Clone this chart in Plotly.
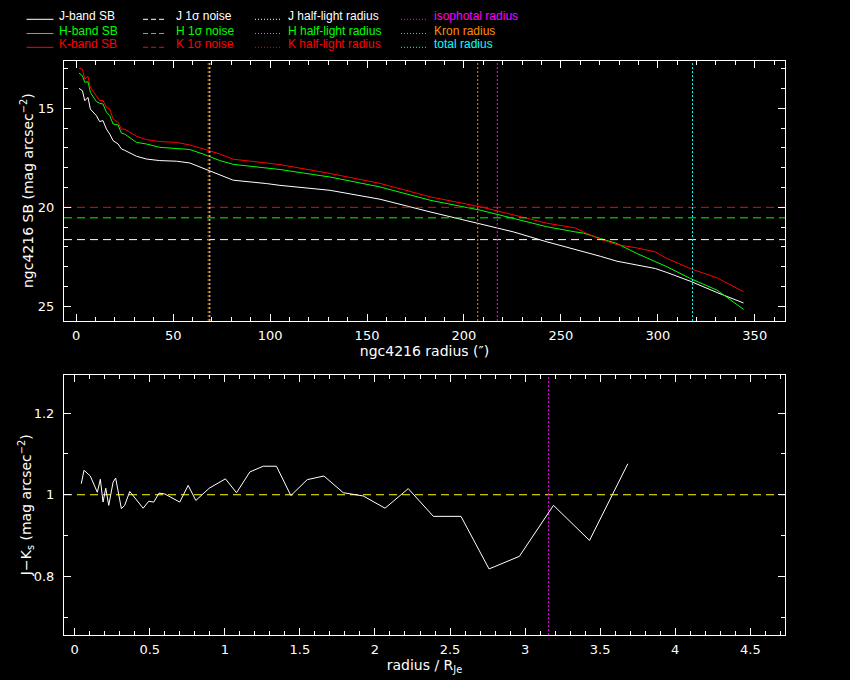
import plotly.graph_objects as go

# ---------------- data ----------------
radius = [1.45, 3.2, 4.4, 6.1, 7.3, 10.4, 12.1, 13.8, 15.6, 17.3, 19.0, 21.6, 23.3, 25.0,
          31.1, 36.2, 43.1, 51.7, 58.6, 65.5, 68.9, 74.1, 81.0, 98.2, 105.1, 130.9, 156.7,
          182.5, 208.3, 225.5, 242.7, 257.4, 261.6, 270.3, 278.9, 289.2, 298.7, 304.7,
          316.7, 330.5, 344.2]
sb_j = [13.99, 14.11, 14.61, 14.45, 15.04, 15.37, 15.67, 15.62, 16.05, 16.30, 16.63, 16.80,
        17.05, 17.12, 17.42, 17.56, 17.64, 17.67, 17.76, 18.03, 18.19, 18.37, 18.63, 18.80,
        18.89, 19.14, 19.59, 20.23, 20.82, 21.24, 21.74, 22.13, 22.22, 22.47, 22.72, 22.92,
        23.09, 23.29, 23.73, 24.30, 24.83]
sb_h = [13.22, 13.35, 13.69, 13.66, 14.20, 14.66, 14.75, 14.78, 15.20, 15.37, 15.79, 15.84,
        16.25, 16.30, 16.72, 16.80, 16.97, 17.02, 17.08, 17.31, 17.44, 17.64, 17.83, 18.01,
        18.09, 18.47, 18.97, 19.64, 20.14, 20.56, 20.98, 21.24, 21.30, 21.57, 21.83, 22.33,
        22.75, 23.00, 23.59, 24.18, 25.15]
sb_k = [12.97, 13.02, 13.52, 13.39, 13.94, 14.36, 14.61, 14.61, 14.95, 15.04, 15.54, 15.71,
        16.05, 16.05, 16.41, 16.58, 16.68, 16.72, 16.85, 17.05, 17.14, 17.31, 17.57, 17.79,
        17.84, 18.29, 18.79, 19.47, 19.97, 20.38, 20.80, 21.04, 21.24, 21.61, 21.88, 22.05,
        22.25, 22.58, 23.09, 23.56, 24.26]

noise_j, noise_h, noise_k = 21.63, 20.53, 20.0
half_light_j, half_light_h, half_light_k = 68.9, 68.4, 68.0
isophotal_radius = 217.2
kron_radius = 207.1
total_radius = 317.9
r_je = 68.8

color_r = [0.044, 0.062, 0.104, 0.151, 0.171, 0.189, 0.207, 0.227, 0.256, 0.273, 0.311, 0.333,
           0.367, 0.456, 0.493, 0.527, 0.562, 0.600, 0.700, 0.756, 0.807, 0.896, 1.004, 1.078,
           1.167, 1.256, 1.344, 1.440, 1.549, 1.660, 1.789, 1.878, 1.922, 2.067, 2.222, 2.389,
           2.573, 2.760, 2.962, 3.189, 3.311, 3.429, 3.684]
color_jk = [1.027, 1.060, 1.046, 1.006, 1.038, 0.982, 1.016, 0.974, 1.031, 1.041, 0.966, 0.974,
            1.008, 0.967, 0.984, 0.982, 1.004, 1.002, 0.982, 1.023, 0.986, 1.016, 1.039, 1.005,
            1.056, 1.070, 1.070, 0.998, 1.037, 1.046, 1.005, 1.000, 0.997, 0.967, 1.015, 0.947,
            0.947, 0.818, 0.849, 0.974, 0.930, 0.888, 1.076]
color_ref = 1.0

legend_col1 = ["J-band SB", "H-band SB", "K-band SB"]
legend_col2 = ["J 1σ noise", "H 1σ noise", "K 1σ noise"]
legend_col3 = ["J half-light radius", "H half-light radius", "K half-light radius"]
legend_col4 = ["isophotal radius", "Kron radius", "total radius"]

X1 = [-6.3, 365.6]
Y1 = [25.74, 12.61]
X2 = [-0.071, 4.731]
Y2 = [0.656, 1.293]

WHITE, GREEN, RED = "#ffffff", "#00ff00", "#ff0000"
MAGENTA, ORANGE, CYAN, YELLOW = "#ff00ff", "#ff8c00", "#00ffff", "#ffff00"
BAND_COLORS = [WHITE, GREEN, RED]
RADIUS_COLORS = [MAGENTA, ORANGE, CYAN]
FONT = "DejaVu Sans"
LFONT = "Liberation Sans"
DASH = "8px,5px"
DOT = "2px,2px"

fig = go.Figure()

for y, col in zip([sb_j, sb_h, sb_k], BAND_COLORS):
    fig.add_trace(go.Scatter(x=radius, y=y, mode="lines", line=dict(color=col, width=1),
                             showlegend=False, xaxis="x", yaxis="y"))
for v, col in zip([noise_j, noise_h, noise_k], BAND_COLORS):
    fig.add_trace(go.Scatter(x=X1, y=[v, v], mode="lines", line=dict(color=col, width=1, dash=DASH),
                             showlegend=False, xaxis="x", yaxis="y"))
for v, col in zip([half_light_j, half_light_h, half_light_k], BAND_COLORS):
    fig.add_trace(go.Scatter(x=[v, v], y=Y1, mode="lines", line=dict(color=col, width=1, dash=DOT),
                             showlegend=False, xaxis="x", yaxis="y"))
for v, col in zip([isophotal_radius, kron_radius, total_radius], RADIUS_COLORS):
    fig.add_trace(go.Scatter(x=[v, v], y=Y1, mode="lines", line=dict(color=col, width=1, dash=DOT),
                             showlegend=False, xaxis="x", yaxis="y"))

# bottom panel
fig.add_trace(go.Scatter(x=X2, y=[color_ref, color_ref], mode="lines",
                         line=dict(color=YELLOW, width=1, dash=DASH), showlegend=False,
                         xaxis="x2", yaxis="y2"))
fig.add_trace(go.Scatter(x=[isophotal_radius / r_je] * 2, y=Y2, mode="lines",
                         line=dict(color=MAGENTA, width=1, dash=DOT), showlegend=False,
                         xaxis="x2", yaxis="y2"))
fig.add_trace(go.Scatter(x=color_r, y=color_jk, mode="lines", line=dict(color=WHITE, width=1),
                         showlegend=False, xaxis="x2", yaxis="y2"))

axis_common = dict(showline=True, linecolor=WHITE, linewidth=1, mirror="ticks", ticks="inside",
                   tickcolor=WHITE, ticklen=7, tickwidth=1, showgrid=False, zeroline=False,
                   tickfont=dict(family=FONT, size=13, color=WHITE), automargin=False)

W, H = 850, 680
ml, mr, mt, mb = 64, 65, 61, 45
ph = H - mt - mb
pw = W - ml - mr


def py2paper(py):
    return (H - mb - py) / ph


def px2paper(px):
    return (px - ml) / pw


# ---- legend drawn as paper-positioned keys + labels ----
rows_py = [16.3, 30.5, 44.3]
columns = [
    (legend_col1, BAND_COLORS, None, 26.5, 53.5, 57),
    (legend_col2, BAND_COLORS, "dash", 143, 166, 174),
    (legend_col3, BAND_COLORS, "dot", 255, 281, 286),
    (legend_col4, RADIUS_COLORS, "dot", 401, 427, 432),
]
shapes = []
annotations = []
for labels, cols, dash, kx0, kx1, tx in columns:
    for text, col, py in zip(labels, cols, rows_py):
        line = dict(color=col, width=1)
        if dash == "dash":
            line["dash"] = "5px,3px"
        elif dash == "dot":
            line["dash"] = "1px,2px"
        shapes.append(dict(type="line", xref="paper", yref="paper",
                           x0=px2paper(kx0), x1=px2paper(kx1),
                           y0=py2paper(py + 3), y1=py2paper(py + 3), line=line))
        annotations.append(dict(text=text, xref="paper", yref="paper", x=px2paper(tx),
                                y=py2paper(py), xanchor="left", yanchor="middle", showarrow=False,
                                font=dict(family=LFONT, size=12, color=col)))

# y-axis titles
top_lo, bot_hi = py2paper(321), py2paper(375.3)
annotations.append(dict(text="ngc4216 SB (mag arcsec<sup>\u22122</sup>)", xref="paper", yref="paper",
                        x=px2paper(27), y=(top_lo + 1) / 2, xanchor="center", yanchor="middle",
                        textangle=-90, showarrow=False, font=dict(family=FONT, size=14, color=WHITE)))
annotations.append(dict(text="J\u2212K<sub>s</sub> (mag arcsec<sup>\u22122</sup>)", xref="paper", yref="paper",
                        x=px2paper(26), y=bot_hi / 2, xanchor="center", yanchor="middle",
                        textangle=-90, showarrow=False, font=dict(family=FONT, size=14, color=WHITE)))

fig.update_layout(
    width=W, height=H,
    margin=dict(l=ml, r=mr, t=mt, b=mb),
    paper_bgcolor="black", plot_bgcolor="black",
    font=dict(family=FONT, color=WHITE),
    showlegend=False,
    shapes=shapes, annotations=annotations,
    xaxis=dict(axis_common, domain=[0, 1], range=X1, dtick=50, tick0=0,
               minor=dict(dtick=10, ticklen=4, ticks="inside", tickcolor=WHITE),
               anchor="y", ticklabelstandoff=2,
               title=dict(text="ngc4216 radius (\u2033)", font=dict(family=FONT, size=14, color=WHITE), standoff=2)),
    yaxis=dict(axis_common, domain=[top_lo, 1], range=Y1, dtick=5, tick0=0,
               minor=dict(dtick=1, ticklen=4, ticks="inside", tickcolor=WHITE),
               anchor="x", ticklabelstandoff=6),
    xaxis2=dict(axis_common, domain=[0, 1], range=X2, dtick=0.5, tick0=0,
                minor=dict(dtick=0.1, ticklen=4, ticks="inside", tickcolor=WHITE),
                anchor="y2", ticklabelstandoff=2,
                title=dict(text="radius / R<sub>Je</sub>", font=dict(family=FONT, size=14, color=WHITE), standoff=2)),
    yaxis2=dict(axis_common, domain=[0, bot_hi], range=Y2, dtick=0.2, tick0=0,
                minor=dict(dtick=0.1, ticklen=4, ticks="inside", tickcolor=WHITE),
                anchor="x2", ticklabelstandoff=6),
)

fig.write_html("out.html", config={"displayModeBar": False},
               post_script="document.body.style.margin='0px';document.body.style.background='black';")
